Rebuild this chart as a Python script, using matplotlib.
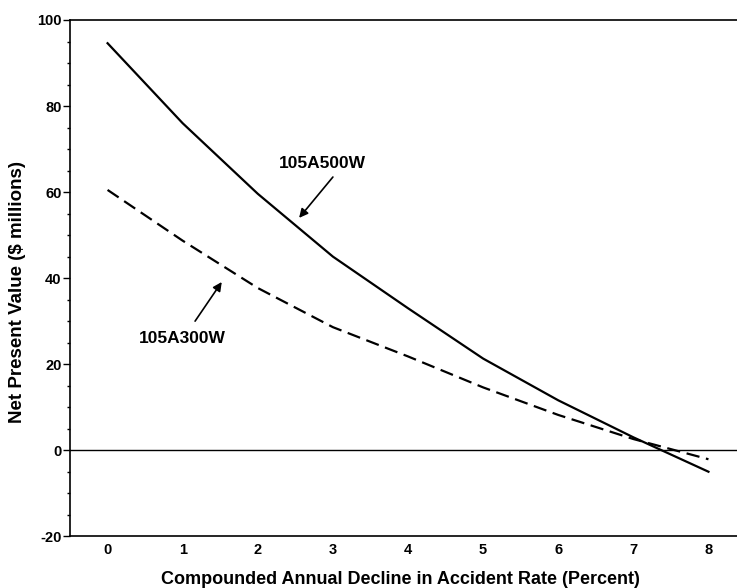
import matplotlib.pyplot as plt
from matplotlib.ticker import MultipleLocator

plt.rcParams['font.family'] = ['Liberation Sans', 'DejaVu Sans']
plt.rcParams['axes.unicode_minus'] = False

rate = [0, 1, 2, 3, 4, 5, 6, 7, 8]
npv_500w = [94.6, 76.0, 59.6, 45.0, 33.0, 21.3, 11.6, 3.0, -5.0]
npv_300w = [60.5, 48.7, 37.7, 28.6, 21.8, 14.6, 8.2, 2.6, -2.1]
x_ticks = [0, 1, 2, 3, 4, 5, 6, 7, 8]
y_ticks = [-20, 0, 20, 40, 60, 80, 100]

fig = plt.figure(figsize=(7.37, 5.88), dpi=100)
ax = fig.add_axes([0.095, 0.088, 0.905, 0.878])

ax.plot(rate, npv_500w, color='black', lw=1.6)
ax.plot(rate, npv_300w, color='black', lw=1.6, dashes=(6, 3))
ax.axhline(0, color='black', lw=1.0)

ax.set_xlim(-0.5, 8.38)
ax.set_ylim(-20, 100)
ax.set_xticks(x_ticks)
ax.set_yticks(y_ticks)
ax.yaxis.set_minor_locator(MultipleLocator(5))

ax.spines['right'].set_visible(False)
for s in ['left', 'top', 'bottom']:
    ax.spines[s].set_linewidth(1.2)

ax.tick_params(axis='x', length=0, pad=5, labelsize=10.5)
ax.tick_params(axis='y', which='major', length=5, width=1, direction='out', labelsize=10.5, pad=1)
ax.tick_params(axis='y', which='minor', length=2.5, width=1, direction='out')
for lab in ax.get_xticklabels() + ax.get_yticklabels():
    lab.set_fontweight('bold')

ax.set_xlabel("Compounded Annual Decline in Accident Rate (Percent)", fontsize=13, fontweight='bold')
ax.xaxis.set_label_coords(0.495, -0.084)
ax.xaxis.label.set_va('center')
ax.set_ylabel("Net Present Value ($ millions)", fontsize=13.5, fontweight='bold')
ax.yaxis.set_label_coords(-0.078, 0.473)
ax.yaxis.label.set_va('center')

ax.text(2.86, 66.7, "105A500W", ha='center', va='center', fontsize=12.5, fontweight='bold')
ax.annotate("", xy=(2.55, 54), xytext=(3.0, 63.5),
            arrowprops=dict(arrowstyle='-|>', color='black', lw=1.2,
                            mutation_scale=13, shrinkA=0, shrinkB=0))
ax.text(1.0, 26, "105A300W", ha='center', va='center', fontsize=12.5, fontweight='bold')
ax.annotate("", xy=(1.52, 39.1), xytext=(1.165, 30),
            arrowprops=dict(arrowstyle='-|>', color='black', lw=1.2,
                            mutation_scale=13, shrinkA=0, shrinkB=0))

fig.savefig("out.png", dpi=100)
